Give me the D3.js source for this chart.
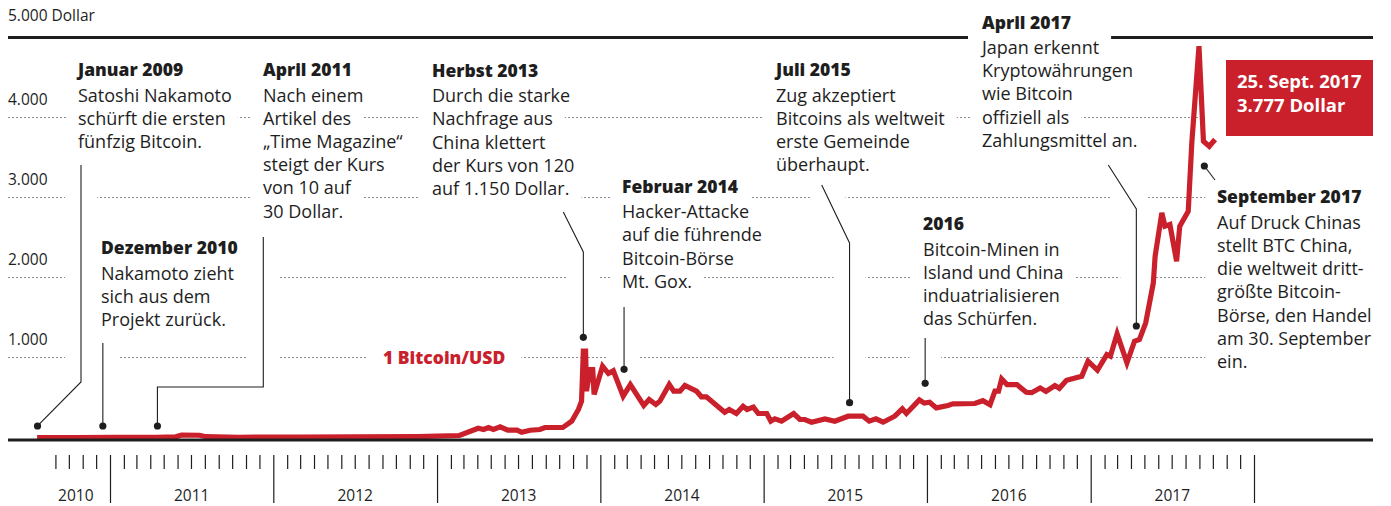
<!DOCTYPE html>
<html>
<head>
<meta charset="utf-8">
<script src="https://cdn.jsdelivr.net/npm/d3@7"></script>
<style>
body{margin:0;background:#fff;}
svg{display:block;font-family:"Open Sans",sans-serif;}
</style>
</head>
<body>
<svg id="chart" width="1391" height="506"></svg>
<script>
// Bitcoin-Kurs in US-Dollar
var dates = ["2010-07-22","2010-10-15","2011-01-15","2011-04-15","2011-05-28","2011-06-10","2011-07-20","2011-08-03",
	"2011-10-15","2012-03-01","2012-07-01","2012-11-20","2012-12-10","2013-02-20",
	"2013-04-03","2013-04-15","2013-04-26","2013-05-07","2013-05-22","2013-06-08","2013-06-29","2013-07-09",
	"2013-07-28","2013-08-19","2013-08-30","2013-10-09","2013-10-29","2013-11-13","2013-11-20","2013-11-24",
	"2013-11-29","2013-12-01","2013-12-09","2013-12-15","2013-12-18","2014-01-06","2014-01-19","2014-01-30",
	"2014-02-21","2014-03-09","2014-04-08","2014-04-20","2014-05-05","2014-05-14","2014-06-04","2014-06-14",
	"2014-06-28","2014-07-09","2014-08-04","2014-08-15","2014-08-26","2014-10-06","2014-10-16","2014-11-01",
	"2014-11-16","2014-11-25","2014-12-09","2014-12-20","2015-01-08","2015-01-17","2015-01-26","2015-02-10",
	"2015-03-09","2015-03-23","2015-04-03","2015-04-18","2015-05-18","2015-06-09","2015-07-09","2015-08-11",
	"2015-08-25","2015-09-09","2015-09-25","2015-10-21","2015-11-07","2015-11-16","2015-12-15","2015-12-26",
	"2016-01-07","2016-01-22","2016-02-17","2016-02-28","2016-04-17","2016-05-05","2016-05-21","2016-06-01",
	"2016-06-09","2016-06-16","2016-06-28","2016-07-20","2016-08-10","2016-08-22","2016-09-10","2016-09-23",
	"2016-10-13","2016-10-23","2016-11-08","2016-12-12","2016-12-26","2017-01-16","2017-02-06","2017-02-14",
	"2017-03-01","2017-03-23","2017-04-09","2017-04-20","2017-05-04","2017-05-21","2017-05-25","2017-06-09",
	"2017-06-16","2017-06-27","2017-07-12","2017-07-19","2017-08-07","2017-08-15","2017-08-31","2017-09-10",
	"2017-09-23","2017-10-06"];
var prices = [0.1,0.1,0.4,1,8,30,28,10,
	3,5,7,11,13,25,
	116,100,125,100,134,91,91,65,
	91,100,125,125,204,350,454,1079,
	1079,579,850,850,538,891,800,835,
	516,662,400,475,412,454,662,579,
	579,650,579,509,509,316,350,300,
	391,350,379,300,300,204,233,204,
	300,225,225,191,233,204,266,266,
	204,233,191,266,358,300,470,430,
	440,370,400,420,425,460,410,579,
	579,733,662,662,565,560,620,575,
	650,615,716,766,954,841,1037,1016,
	1296,933,1204,1225,1433,1933,2266,2808,
	2641,2662,2204,2641,2829,3683,4891,3704,
	3641,3725];

var gridValues = [1000, 2000, 3000, 4000];
var gridLabels = ["1.000", "2.000", "3.000", "4.000"];
var topValue = 5000;
var topLabel = "5.000 Dollar";
var years = [2010, 2011, 2012, 2013, 2014, 2015, 2016, 2017];
var seriesLabel = "1 Bitcoin/USD";
var boxLines = ["25. Sept. 2017", "3.777 Dollar"];

var noteTitles = ["Januar 2009", "Dezember 2010", "April 2011", "Herbst 2013", "Februar 2014",
	"Juli 2015", "2016", "April 2017", "September 2017"];
var noteTexts = [
	["Satoshi Nakamoto", "schürft die ersten", "fünfzig Bitcoin."],
	["Nakamoto zieht", "sich aus dem", "Projekt zurück."],
	["Nach einem", "Artikel des", "„Time Magazine“", "steigt der Kurs", "von 10 auf", "30 Dollar."],
	["Durch die starke", "Nachfrage aus", "China klettert", "der Kurs von 120", "auf 1.150 Dollar."],
	["Hacker-Attacke", "auf die führende", "Bitcoin-Börse", "Mt. Gox."],
	["Zug akzeptiert", "Bitcoins als weltweit", "erste Gemeinde", "überhaupt."],
	["Bitcoin-Minen in", "Island und China", "induatrialisieren", "das Schürfen."],
	["Japan erkennt", "Kryptowährungen", "wie Bitcoin", "offiziell als", "Zahlungsmittel an."],
	["Auf Druck Chinas", "stellt BTC China,", "die weltweit dritt-", "größte Bitcoin-", "Börse, den Handel", "am 30. September", "ein."]
];
var noteDates = ["2010-07-23", "2010-12-16", "2011-04-17", "2013-11-24", "2014-02-23",
	"2015-07-12", "2015-12-28", "2017-04-13", "2017-09-12"];
var noteValues = [144, 144, 144, 1252, 852, 435, 677, 1394, 3394];

// Layout der Anmerkungen (Textposition und Knickpunkte der Linien, null = x des Punkts)
var noteLayout = [
	{x: 78, y: 76, path: [[81, 165], [81, 382]]},
	{x: 101, y: 254, path: [[null, 343]]},
	{x: 263, y: 76, path: [[263.3, 237], [263.3, 387], [null, 387]]},
	{x: 432, y: 76.7, path: [[563.3, 212], [null, 252]]},
	{x: 622, y: 192.7, path: [[null, 307]]},
	{x: 776, y: 76, path: [[821.7, 185], [null, 243]]},
	{x: 923, y: 230, path: [[null, 338]]},
	{x: 982, y: 28.5, path: [[1108.3, 165], [null, 209]]},
	{x: 1217, y: 203.3, path: [[1215, 180]]}
];

var red = "#c9202b";
var ink = "#1e1e1e";
var parse = d3.timeParse("%Y-%m-%d");

var data = dates.map(function(d, i){ return {date: parse(d), value: prices[i]}; });

var xScale = d3.scaleTime()
	.domain([new Date(2011, 0, 1), new Date(2018, 0, 1)])
	.range([110, 1254]);

var yScale = d3.scaleLinear()
	.domain([0, 5000])
	.range([437.5, 37.5]);

var svg = d3.select("#chart");
var left = 8, right = 1373, gridEnd = 1205;

// Gitterlinien
var grid = svg.append("g");
grid.selectAll("line")
	.data(gridValues)
	.enter().append("line")
	.attr("x1", left).attr("x2", gridEnd)
	.attr("y1", function(d){ return yScale(d); })
	.attr("y2", function(d){ return yScale(d); })
	.attr("stroke", "#8c8c8c")
	.attr("stroke-width", 1)
	.attr("stroke-dasharray", "2,2");

grid.selectAll("text")
	.data(gridValues)
	.enter().append("text")
	.attr("x", left)
	.attr("y", function(d){ return yScale(d) - 13; })
	.attr("font-size", 15.5)
	.attr("fill", ink)
	.text(function(d, i){ return gridLabels[i]; });

svg.append("text")
	.attr("x", left)
	.attr("y", yScale(topValue) - 16.5)
	.attr("font-size", 15.5)
	.attr("fill", ink)
	.text(topLabel);

svg.append("line")
	.attr("x1", left).attr("x2", right)
	.attr("y1", yScale(topValue)).attr("y2", yScale(topValue))
	.attr("stroke", ink).attr("stroke-width", 3);

var haloLayer = svg.append("g");
var lineLayer = svg.append("g");
var axisLayer = svg.append("g");
var noteLayer = svg.append("g");

// Kurslinie
var line = d3.line()
	.x(function(d){ return xScale(d.date); })
	.y(function(d){ return yScale(d.value); });

lineLayer.append("path")
	.datum(data)
	.attr("d", line)
	.attr("fill", "none")
	.attr("stroke", red)
	.attr("stroke-width", 5.2);

// Grundlinie
axisLayer.append("line")
	.attr("x1", left).attr("x2", right)
	.attr("y1", yScale(0) + 2.5).attr("y2", yScale(0) + 2.5)
	.attr("stroke", ink).attr("stroke-width", 3);

// Zeitachse
var months = d3.timeMonth.range(new Date(2010, 8, 1), new Date(2018, 0, 1))
	.filter(function(d){ return d.getMonth() !== 0; });
var yearStarts = d3.timeYear.range(new Date(2011, 0, 1), new Date(2018, 0, 2));

var monthAxis = d3.axisBottom(xScale)
	.tickValues(months)
	.tickSize(14)
	.tickSizeOuter(0)
	.tickFormat("");
var yearAxis = d3.axisBottom(xScale)
	.tickValues(yearStarts)
	.tickSize(48)
	.tickSizeOuter(0)
	.tickFormat("");

[monthAxis, yearAxis].forEach(function(ax){
	var g = axisLayer.append("g")
		.attr("transform", "translate(0,455)")
		.call(ax);
	g.select(".domain").remove();
	g.selectAll(".tick line").attr("stroke", ink).attr("stroke-width", 1.2);
});

axisLayer.selectAll(".year-label")
	.data(years)
	.enter().append("text")
	.attr("class", "year-label")
	.attr("x", function(d){
		var a = d === 2010 ? new Date(2010, 7, 1) : new Date(d, 0, 1);
		var b = new Date(d + 1, 0, 1);
		return (xScale(a) + xScale(b)) / 2;
	})
	.attr("y", 501)
	.attr("text-anchor", "middle")
	.attr("font-size", 15.5)
	.attr("fill", ink)
	.text(function(d){ return d; });

// Anmerkungen
function addHalo(el, padX){
	var b = el.node().getBBox();
	var base = +el.attr("y");
	haloLayer.append("rect")
		.attr("x", b.x - padX).attr("y", base - 19)
		.attr("width", b.width + 2 * padX).attr("height", 26)
		.attr("fill", "#fff");
}

noteTitles.forEach(function(title, i){
	var lay = noteLayout[i];
	var dx = xScale(parse(noteDates[i]));
	var dy = yScale(noteValues[i]);
	var g = noteLayer.append("g");

	var t = g.append("text")
		.attr("x", lay.x).attr("y", lay.y)
		.attr("font-size", 17.5).attr("font-weight", 800)
		.attr("fill", ink)
		.text(title);
	addHalo(t, 12);

	noteTexts[i].forEach(function(s, j){
		var tl = g.append("text")
			.attr("x", lay.x).attr("y", lay.y + 25.5 + j * 23.2)
			.attr("font-size", 18)
			.attr("fill", ink)
			.text(s);
		addHalo(tl, 12);
	});

	var pts = lay.path.map(function(p){ return [p[0] === null ? dx : p[0], p[1]]; });
	pts.push([dx, dy]);

	haloLayer.append("path")
		.attr("d", d3.line()(pts))
		.attr("fill", "none")
		.attr("stroke", "#fff")
		.attr("stroke-width", 32)
		.attr("stroke-linecap", "butt");

	g.append("path")
		.attr("d", d3.line()(pts))
		.attr("fill", "none")
		.attr("stroke", ink)
		.attr("stroke-width", 1.1);

	g.append("circle")
		.attr("cx", dx).attr("cy", dy)
		.attr("r", 3.6)
		.attr("fill", ink);
});

// Serienbeschriftung
var sl = noteLayer.append("text")
	.attr("x", 383).attr("y", 364)
	.attr("font-size", 17.5).attr("font-weight", 800)
	.attr("fill", red)
	.text(seriesLabel);
addHalo(sl, 16);

// Rote Box
var box = noteLayer.append("g");
box.append("rect")
	.attr("x", 1226).attr("y", 60)
	.attr("width", 147).attr("height", 76)
	.attr("fill", red);
box.selectAll("text")
	.data(boxLines)
	.enter().append("text")
	.attr("x", 1237)
	.attr("y", function(d, i){ return 88 + i * 23.5; })
	.attr("font-size", 18.5).attr("font-weight", 700)
	.attr("fill", "#fff")
	.text(function(d){ return d; });
</script>
</body>
</html>
